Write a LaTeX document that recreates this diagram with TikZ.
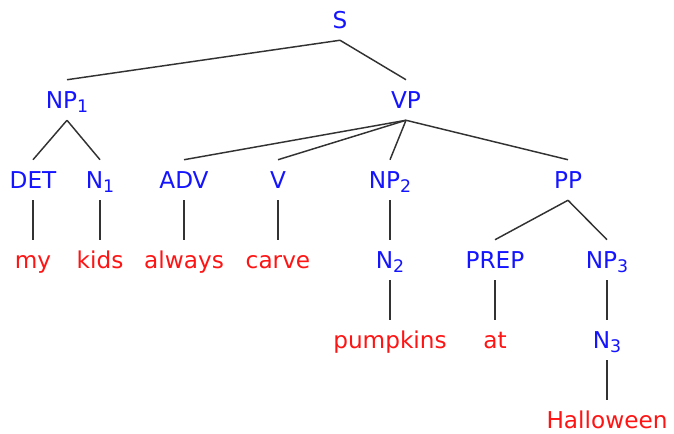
\documentclass[tikz,border=0pt]{standalone}
\usepackage{fontspec}
\setmainfont{DejaVu Sans}
\definecolor{catblue}{RGB}{20,20,255}
\definecolor{wordred}{RGB}{255,20,20}
\definecolor{edgegray}{RGB}{50,50,50}
\newcommand{\subnum}[1]{\raisebox{-0.3ex}{\fontsize{13}{13}\selectfont #1}}
\begin{document}
\begin{tikzpicture}[x=0.75pt,y=-0.75pt,
  base/.style={inner sep=0pt, minimum height=30pt, text height=12.5pt, text depth=0pt, font=\fontsize{17.4}{20}\selectfont},
  cat/.style={base, text=catblue},
  word/.style={base, text=wordred},
  edge/.style={draw=edgegray, line width=1.1pt}]
\useasboundingbox (0,0) rectangle (674,434);
\node[cat] (S) at (340,20) {S};
\node[cat] (NP1) at (67,100) {NP\subnum{1}};
\node[cat] (VP) at (406,100) {VP};
\node[cat] (DET) at (33,180) {DET};
\node[cat] (N1) at (100,180) {N\subnum{1}};
\node[cat] (ADV) at (184,180) {ADV};
\node[cat] (V) at (278,180) {V};
\node[cat] (NP2) at (390,180) {NP\subnum{2}};
\node[cat] (PP) at (568,180) {PP};
\node[word] (my) at (33,260) {my};
\node[word] (kids) at (100,260) {kids};
\node[word] (always) at (184,260) {always};
\node[word] (carve) at (278,260) {carve};
\node[cat] (N2) at (390,260) {N\subnum{2}};
\node[cat] (PREP) at (495,260) {PREP};
\node[cat] (NP3) at (607,260) {NP\subnum{3}};
\node[word] (pumpkins) at (390,340) {pumpkins};
\node[word] (at) at (495,340) {at};
\node[cat] (N3) at (607,340) {N\subnum{3}};
\node[word] (Halloween) at (607,420) {Halloween};
\foreach \p/\c in {S/NP1,S/VP,NP1/DET,NP1/N1,VP/ADV,VP/V,VP/NP2,VP/PP,
  DET/my,N1/kids,ADV/always,V/carve,NP2/N2,PP/PREP,PP/NP3,
  N2/pumpkins,PREP/at,NP3/N3,N3/Halloween}
  \draw[edge] (\p.south) -- (\c.north);
\end{tikzpicture}
\end{document}
